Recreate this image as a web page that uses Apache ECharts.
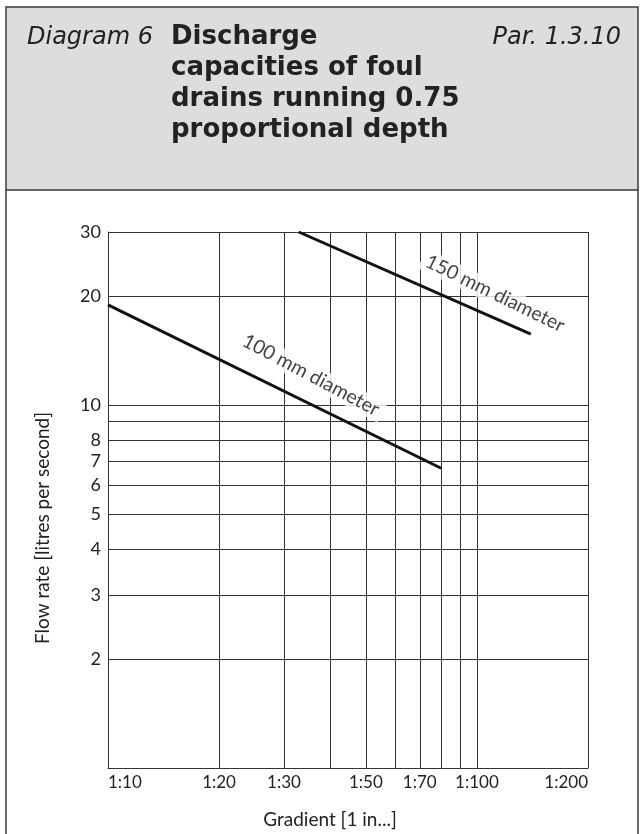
<!DOCTYPE html>
<html><head><meta charset="utf-8">
<script src="https://cdn.jsdelivr.net/npm/echarts@6/dist/echarts.min.js"></script>
<style>html,body{margin:0;padding:0;background:#fff}#c{width:644px;height:834px}</style>
</head><body><div id="c"></div>
<script>
// Gradient (1 in ...) grid values and labels
const gradientGrid = [10, 20, 30, 40, 50, 60, 70, 80, 90, 100, 200];
const gradientLabels = [10, 20, 30, 50, 70, 100, 200];
// Flow rate (l/s) grid values and labels
const flowGrid = [2, 3, 4, 5, 6, 7, 8, 9, 10, 20, 30];
const flowLabels = [2, 3, 4, 5, 6, 7, 8, 10, 20, 30];
// Pipe lines: [gradient, flow]
const pipe100 = [[10, 18.9], [80, 6.7]];
const pipe150 = [[32.9, 30], [140, 15.7]];
// Label anchors
const label100 = [[35.5, 12.1]];
const label150 = [[112, 20.3]];

const FONT = 'Lato, "Open Sans", sans-serif';
const HFONT = '"DejaVu Sans", sans-serif';
const chart = echarts.init(document.getElementById('c'), null, {renderer: 'canvas'});
chart.setOption({
  animation: false,
  backgroundColor: '#fff',
  graphic: [
    {type: 'rect', z: -1, shape: {x: 6, y: 7, width: 632, height: 183},
     style: {fill: '#dcdddf', stroke: '#3a3a3a', lineWidth: 1.5}},
    {type: 'line', shape: {x1: 6, y1: 190, x2: 6, y2: 834}, style: {stroke: '#3a3a3a', lineWidth: 1.5}},
    {type: 'line', shape: {x1: 638, y1: 190, x2: 638, y2: 834}, style: {stroke: '#3a3a3a', lineWidth: 1.5}}
  ],
  title: [
    {text: 'Diagram 6', left: 22, top: 21,
     textStyle: {fontFamily: HFONT, fontStyle: 'italic', fontWeight: 'normal', fontSize: 24, color: '#222'}},
    {text: 'Discharge\ncapacities of foul\ndrains running 0.75\nproportional depth', left: 166, top: 17,
     textStyle: {fontFamily: HFONT, fontWeight: 'bold', fontSize: 26, lineHeight: 31, color: '#222'}},
    {text: 'Par. 1.3.10', right: 18, top: 21,
     textStyle: {fontFamily: HFONT, fontStyle: 'italic', fontWeight: 'normal', fontSize: 24, color: '#222'}}
  ],
  grid: {left: 108, top: 232, width: 480, height: 537, containLabel: false},
  xAxis: {
    type: 'log', logBase: 10, min: 10, max: 200,
    name: 'Gradient [1 in...]', nameLocation: 'middle', nameGap: 42,
    nameTextStyle: {fontFamily: FONT, fontSize: 19, color: '#222', padding: [0, 36, 0, 0]},
    axisLine: {show: true, lineStyle: {color: '#333', width: 1}},
    axisTick: {show: false, customValues: gradientGrid},
    axisLabel: {customValues: gradientLabels, formatter: v => '1:' + v,
      fontFamily: FONT, fontSize: 17, color: '#222', margin: 6,
      alignMinLabel: 'left', alignMaxLabel: 'right'},
    splitLine: {show: true, lineStyle: {color: '#333', width: 1}}
  },
  yAxis: {
    type: 'log', logBase: 10, min: 1, max: 30,
    name: 'Flow rate [litres per second]', nameLocation: 'middle', nameGap: 56, nameRotate: 90,
    nameTextStyle: {fontFamily: FONT, fontSize: 19, color: '#222', padding: [0, 56, 0, 0]},
    axisLine: {show: true, lineStyle: {color: '#333', width: 1}},
    axisTick: {show: false, customValues: flowGrid},
    axisLabel: {customValues: flowLabels, fontFamily: FONT, fontSize: 18, color: '#222', margin: 7},
    splitLine: {show: true, lineStyle: {color: '#333', width: 1}}
  },
  series: [
    {type: 'line', data: pipe100, symbol: 'none', lineStyle: {color: '#111', width: 3}, z: 5},
    {type: 'line', data: pipe150, symbol: 'none', lineStyle: {color: '#111', width: 3}, z: 5},
    {type: 'scatter', data: label100, symbolSize: 0, z: 4,
     label: {show: true, position: 'inside', formatter: '100 mm diameter', rotate: -28,
       fontFamily: FONT, fontSize: 19.5, color: '#111', backgroundColor: '#fff', padding: [1, 5]}},
    {type: 'scatter', data: label150, symbolSize: 0, z: 4,
     label: {show: true, position: 'inside', formatter: '150 mm diameter', rotate: -26,
       fontFamily: FONT, fontSize: 19.5, color: '#111', backgroundColor: '#fff', padding: [1, 5]}}
  ]
});
</script></body></html>
